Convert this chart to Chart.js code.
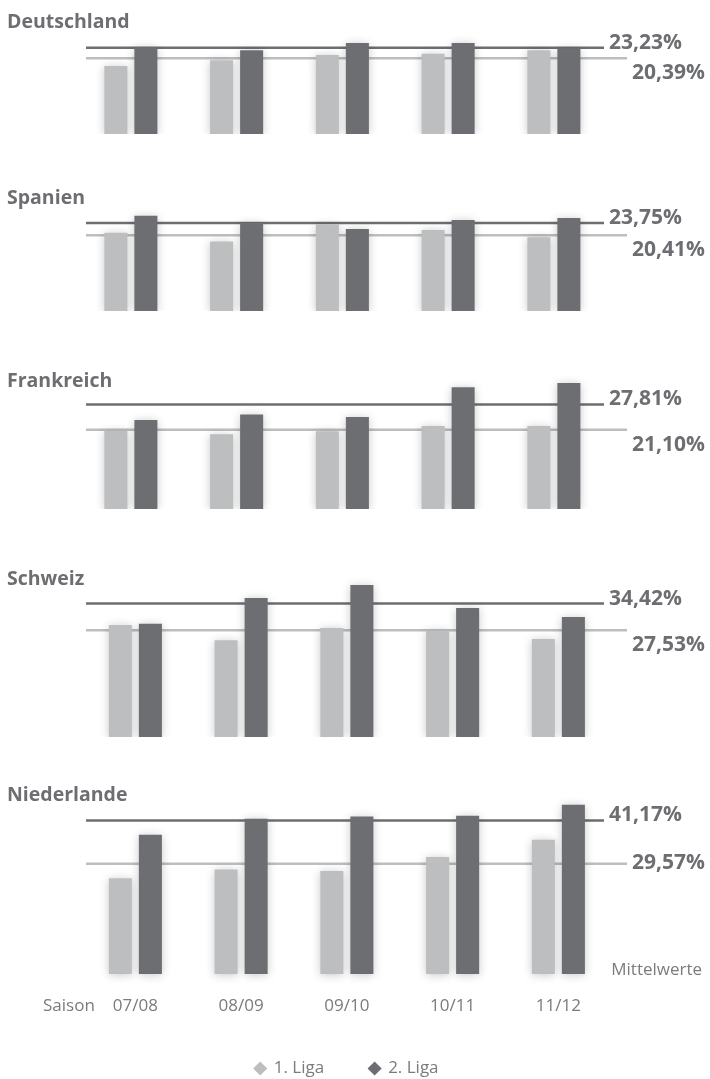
<!DOCTYPE html>
<html lang="de">
<head>
<meta charset="utf-8">
<title>Mittelwerte 1. und 2. Liga</title>
<script src="https://cdn.jsdelivr.net/npm/chart.js@4.4.1/dist/chart.umd.min.js"></script>
<style>
  html, body { margin: 0; padding: 0; background: #fff; overflow: hidden; }
  #wrap { position: relative; width: 710px; height: 1079px; }
  #wrap canvas { position: absolute; left: 0; }
</style>
</head>
<body>
<div id="wrap"></div>
<script>
// --- data -------------------------------------------------------------
const seasons = ['07/08', '08/09', '09/10', '10/11', '11/12'];
const countries = ['Deutschland', 'Spanien', 'Frankreich', 'Schweiz', 'Niederlande'];
const seriesNames = ['1. Liga', '2. Liga'];

const liga1Deutschland = [18.3, 19.9, 21.3, 21.6, 22.6];
const liga2Deutschland = [23.4, 22.6, 24.5, 24.5, 23.1];
const liga1Spanien = [21.1, 18.7, 23.4, 21.8, 19.9];
const liga2Spanien = [25.7, 23.8, 22.1, 24.5, 25.1];
const liga1Frankreich = [20.8, 19.9, 20.7, 22.1, 22.1];
const liga2Frankreich = [23.7, 25.1, 24.5, 32.4, 33.5];
const liga1Schweiz = [28.9, 25.0, 28.1, 27.5, 25.3];
const liga2Schweiz = [29.2, 35.9, 39.2, 33.3, 31.0];
const liga1Niederlande = [25.7, 28.0, 27.6, 31.4, 36.0];
const liga2Niederlande = [37.3, 41.6, 42.2, 42.4, 45.4];

// Mittelwerte (in %)
const mean1 = [20.39, 20.41, 21.10, 27.53, 29.57];
const mean2 = [23.23, 23.75, 27.81, 34.42, 41.17];

const liga1 = [liga1Deutschland, liga1Spanien, liga1Frankreich, liga1Schweiz, liga1Niederlande];
const liga2 = [liga2Deutschland, liga2Spanien, liga2Frankreich, liga2Schweiz, liga2Niederlande];

// --- layout / style ---------------------------------------------------
const LIGHT = '#bcbec0';
const DARK = '#6d6e71';
const TEXT = '#6d6e71';
const AXIS_TEXT = '#7a7b7e';
const FONT = "'Open Sans', 'Noto Sans', sans-serif";

const panelTop = [0, 176, 359, 557, 773];
const panelBase = [134, 311, 509, 737, 974];
const pxPerPct = [3.71, 3.71, 3.76, 3.875, 3.73];
const plotLeft = [78, 78, 78, 82.5, 82.5];
const lightLabelDy = [21, 21, 21, 21, 5];
const PLOT_W = 528.75;
const LINE_X0 = 86, DARK_X1 = 604, LIGHT_X1 = 627;
const LAST_BOTTOM = 1087;

Chart.defaults.font.family = FONT;

function pct(v) {
  return v.toFixed(2).replace('.', ',') + '%';
}

function hLine(ctx, y, color, x1) {
  ctx.strokeStyle = color;
  ctx.beginPath();
  ctx.moveTo(LINE_X0, y);
  ctx.lineTo(x1, y);
  ctx.stroke();
}

const panelDecor = {
  id: 'panelDecor',
  beforeDatasetsDraw(chart, args, opts) {
    const i = opts.index;
    const ctx = chart.ctx;
    const y = chart.scales.y;
    ctx.save();
    ctx.lineWidth = 2.5;
    hLine(ctx, y.getPixelForValue(mean1[i]), LIGHT, LIGHT_X1);
    hLine(ctx, y.getPixelForValue(mean2[i]), DARK, DARK_X1);
    ctx.restore();
    // soft shadow under the bars
    ctx.save();
    ctx.shadowColor = 'rgba(0,0,0,0.22)';
    ctx.shadowBlur = 10;
    ctx.shadowOffsetY = 1;
  },
  afterDatasetsDraw(chart, args, opts) {
    const i = opts.index;
    const ctx = chart.ctx;
    ctx.restore();
    const y = chart.scales.y;
    const y1 = y.getPixelForValue(mean1[i]);
    const y2 = y.getPixelForValue(mean2[i]);

    ctx.save();
    ctx.fillStyle = TEXT;
    ctx.textAlign = 'left';
    ctx.textBaseline = 'alphabetic';
    ctx.font = 'bold 19.5px ' + FONT;
    ctx.fillText(countries[i], 7, 28);

    ctx.font = 'bold 21px ' + FONT;
    ctx.fillText(pct(mean2[i]), DARK_X1 + 5, y2 + 1);
    ctx.fillText(pct(mean1[i]), LIGHT_X1 + 5, y1 + lightLabelDy[i]);

    if (chart.scales.x.options.display) {
      const x = chart.scales.x;
      ctx.fillStyle = AXIS_TEXT;
      ctx.font = '17px ' + FONT;
      ctx.textBaseline = 'middle';
      ctx.fillText('Saison', 43, x.top + x.options.ticks.padding + 10.2);
      ctx.fillText('Mittelwerte', chart.chartArea.right, chart.chartArea.bottom - 4);
    }
    ctx.restore();
  }
};

const wrap = document.getElementById('wrap');

countries.forEach((name, i) => {
  const last = i === countries.length - 1;
  const top = panelTop[i];
  const plotH = panelBase[i] - top;
  const canvas = document.createElement('canvas');
  canvas.width = 710;
  canvas.height = last ? LAST_BOTTOM - top : plotH;
  canvas.style.top = top + 'px';
  wrap.appendChild(canvas);

  new Chart(canvas, {
    type: 'bar',
    data: {
      labels: seasons,
      datasets: [
        { label: seriesNames[0], data: liga1[i], backgroundColor: LIGHT, borderWidth: 0,
          categoryPercentage: 0.568, barPercentage: 0.767, clip: false },
        { label: seriesNames[1], data: liga2[i], backgroundColor: DARK, borderWidth: 0,
          categoryPercentage: 0.568, barPercentage: 0.767, clip: false }
      ]
    },
    options: {
      responsive: false,
      animation: false,
      events: [],
      layout: { padding: { left: plotLeft[i], right: 710 - plotLeft[i] - PLOT_W, top: 0, bottom: 0 } },
      scales: {
        x: {
          display: last,
          grid: { display: false, drawTicks: false },
          border: { display: false },
          ticks: { padding: 22, color: AXIS_TEXT, font: { size: 17 } },
          afterFit: (s) => { s.height = last ? 40.5 : 0; }
        },
        y: { display: false, min: 0, max: plotH / pxPerPct[i] }
      },
      plugins: {
        legend: {
          display: last,
          position: 'bottom',
          labels: {
            usePointStyle: true,
            pointStyle: 'rectRot',
            boxWidth: 10,
            boxHeight: 10,
            padding: 45.5,
            color: AXIS_TEXT,
            font: { size: 17 }
          }
        },
        tooltip: { enabled: false },
        panelDecor: { index: i }
      }
    },
    plugins: [panelDecor]
  });
});
</script>
</body>
</html>
